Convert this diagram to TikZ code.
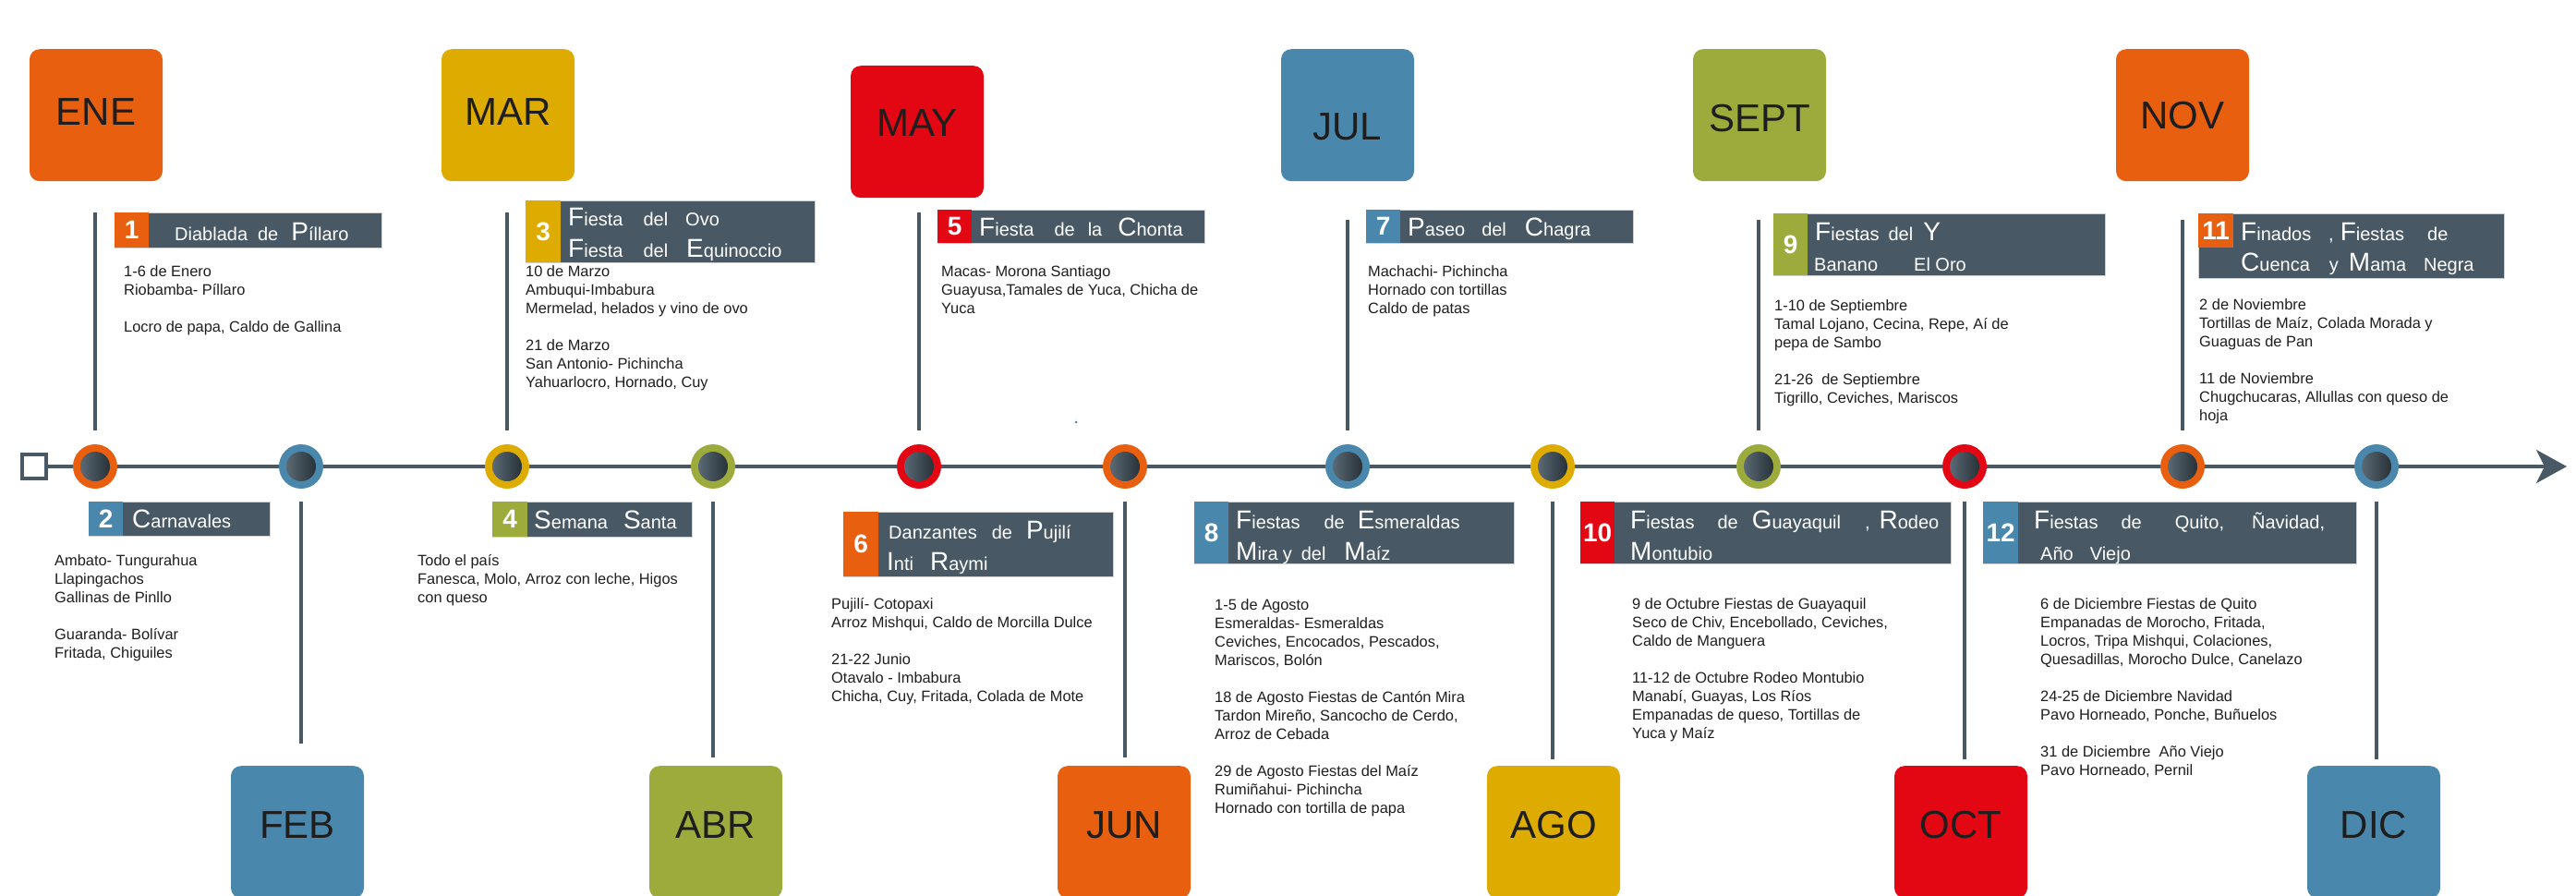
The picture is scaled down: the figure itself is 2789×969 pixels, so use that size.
\documentclass[tikz,border=0pt]{standalone}
\usepackage{fontspec}
\setmainfont{Liberation Sans}
\usetikzlibrary{arrows.meta}

\definecolor{naranja}{HTML}{E95F10}
\definecolor{azul}{HTML}{4A87AC}
\definecolor{amarillo}{HTML}{DEAC00}
\definecolor{verde}{HTML}{9DAB3D}
\definecolor{rojo}{HTML}{E30613}
\definecolor{pizarra}{HTML}{485965}
\definecolor{tinta}{HTML}{1E1E1E}

\newcommand{\ini}[1]{{\fontsize{28}{28}\selectfont #1}}

\tikzset{
  linea/.style={pizarra, line width=3.5pt},
  eje/.style={pizarra, line width=4pt, -{Stealth[length=33pt,width=36pt,inset=9pt]}},
  mes/.style={fill=#1, rounded corners=11pt, minimum width=144pt, minimum height=143pt, inner sep=0pt, anchor=north},
  mestexto/.style={text=tinta, inner sep=0pt, font=\fontsize{42}{42}\selectfont},
  anillo/.style={circle, fill=#1, minimum size=48pt, inner sep=0pt},
  nucleo/.style={circle, minimum size=32pt, inner sep=0pt, left color=pizarra!90!white, right color=pizarra!55!black},
  barra/.style={fill=pizarra, draw=black!18, line width=0.8pt, anchor=north west, inner sep=0pt},
  numero/.style={fill=#1, anchor=north west, inner sep=0pt, text=white, font=\fontsize{28}{28}\selectfont\bfseries},
  titulo/.style={anchor=base west, inner sep=0pt, text=white, font=\fontsize{20}{20}\selectfont},
  texto/.style={anchor=north west, inner sep=0pt, align=left, text=tinta, font=\fontsize{16.4}{20}\selectfont},
}

\begin{document}
\begin{tikzpicture}[x=1pt, y=-1pt]
\useasboundingbox (0,0) rectangle (2789,969);

% meses
\foreach \m/\x/\y/\ty/\col in {ENE/104/53/121/naranja, MAR/550/53/121/amarillo, MAY/993/71/133/rojo, JUL/1459/53/137/azul, SEPT/1905/53/128/verde, NOV/2363/53/125/naranja, FEB/322/829/893/azul, ABR/775/829/893/verde, JUN/1217/829/893/naranja, AGO/1682/829/893/amarillo, OCT/2123/829/893/rojo, DIC/2570/829/893/azul}{
  \node[mes=\col] (m\m) at (\x,\y) {};
  \node[mestexto] (t\m) at (\x,\ty) {\m};
}

% eje
\node[draw=pizarra, line width=4pt, fill=white, minimum size=26pt, inner sep=0pt] (inicio) at (37,505) {};
\coordinate (fin) at (2779,505);
\draw[eje] (inicio) -- (fin);

% circulos
\foreach \i/\x/\col in {1/103/naranja, 2/326/azul, 3/549/amarillo, 4/772/verde, 5/995/rojo, 6/1218/naranja, 7/1459/azul, 8/1681/amarillo, 9/1904/verde, 10/2127/rojo, 11/2363/naranja, 12/2573/azul}{
  \node[anillo=\col] (c\i) at (\x,505) {};
  \node[nucleo] (n\i) at (c\i) {};
}

% lineas verticales
\foreach \i/\x/\y in {1/103/230, 3/549/230, 5/995/230, 7/1459/238, 9/1904/238, 11/2363/238}{
  \coordinate (v\i) at (\x,\y);
  \draw[linea] (v\i) -- ([yshift=15pt]c\i.north);
}
\foreach \i/\x/\y in {2/326/805, 4/772/820, 6/1218/820, 8/1681/822, 10/2127/822, 12/2573/822}{
  \coordinate (v\i) at (\x,\y);
  \draw[linea] ([yshift=-14pt]c\i.south) -- (v\i);
}
\fill[azul] (1165,457) circle (1.5pt);

% 1
\node[barra, minimum width=289pt, minimum height=38pt] (b1) at (124,230) {};
\node[numero=naranja, minimum width=37pt, minimum height=38pt] (k1) at (b1.north west) {1};
\node[titulo] (e1) at (189,260) {Diablada\hspace{11pt}de\hspace{14pt}\ini{P}íllaro};
\node[texto] (d1) at (134,287) {1-6 de Enero\\Riobamba- Píllaro\\[20pt]Locro de papa, Caldo de Gallina};

% 2
\node[barra, minimum width=196pt, minimum height=37pt] (b2) at (96,543) {};
\node[numero=azul, minimum width=37pt, minimum height=37pt] (k2) at (b2.north west) {2};
\node[titulo] (e2) at (143,571) {\ini{C}arnavales};
\node[texto] (d2) at (59,600) {Ambato- Tungurahua\\Llapingachos\\Gallinas de Pinllo\\[20pt]Guaranda- Bolívar\\Fritada, Chiguiles};

% 3
\node[barra, minimum width=313pt, minimum height=67pt] (b3) at (569,217) {};
\node[numero=amarillo, minimum width=38pt, minimum height=67pt] (k3) at (b3.north west) {3};
\node[titulo] (e3) at (615,244) {\ini{F}iesta\hspace{22pt}del\hspace{19pt}Ovo};
\node[titulo] (f3) at (615,278) {\ini{F}iesta\hspace{22pt}del\hspace{20pt}\ini{E}quinoccio};
\node[texto] (d3) at (569,287) {10 de Marzo\\Ambuqui-Imbabura\\Mermelad, helados y vino de ovo\\[20pt]21 de Marzo\\San Antonio- Pichincha\\Yahuarlocro, Hornado, Cuy};

% 4
\node[barra, minimum width=216pt, minimum height=38pt] (b4) at (533,543) {};
\node[numero=verde, minimum width=38pt, minimum height=38pt] (k4) at (b4.north west) {4};
\node[titulo] (e4) at (578,572) {\ini{S}emana\hspace{17pt}\ini{S}anta};
\node[texto] (d4) at (452,600) {Todo el país\\Fanesca, Molo, Arroz con leche, Higos\\con queso};

% 5
\node[barra, minimum width=289pt, minimum height=36pt] (b5) at (1015,227) {};
\node[numero=rojo, minimum width=37pt, minimum height=36pt] (k5) at (b5.north west) {5};
\node[titulo] (e5) at (1060,255) {\ini{F}iesta\hspace{22pt}de\hspace{14pt}la\hspace{17pt}\ini{C}honta};
\node[texto] (d5) at (1019,287) {Macas- Morona Santiago\\Guayusa,Tamales de Yuca, Chicha de\\Yuca};

% 6
\node[barra, minimum width=292pt, minimum height=70pt] (b6) at (913,554) {};
\node[numero=naranja, minimum width=38pt, minimum height=70pt] (k6) at (b6.north west) {6};
\node[titulo] (e6) at (962,583) {Danzantes\hspace{16pt}de\hspace{15pt}\ini{P}ujilí};
\node[titulo] (f6) at (960,617) {\ini{I}nti\hspace{18pt}\ini{R}aymi};
\node[texto] (d6) at (900,647) {Pujilí- Cotopaxi\\Arroz Mishqui, Caldo de Morcilla Dulce\\[20pt]21-22 Junio\\Otavalo - Imbabura\\Chicha, Cuy, Fritada, Colada de Mote};

% 7
\node[barra, minimum width=289pt, minimum height=36pt] (b7) at (1479,227) {};
\node[numero=azul, minimum width=37pt, minimum height=36pt] (k7) at (b7.north west) {7};
\node[titulo] (e7) at (1524,255) {\ini{P}aseo\hspace{18pt}del\hspace{20pt}\ini{C}hagra};
\node[texto] (d7) at (1481,287) {Machachi- Pichincha\\Hornado con tortillas\\Caldo de patas};

% 8
\node[barra, minimum width=346pt, minimum height=67pt] (b8) at (1293,543) {};
\node[numero=azul, minimum width=37pt, minimum height=67pt] (k8) at (b8.north west) {8};
\node[titulo] (e8) at (1338,572) {\ini{F}iestas\hspace{26pt}de\hspace{14pt}\ini{E}smeraldas};
\node[titulo] (f8) at (1338,606) {\ini{M}ira\hspace{5pt}y\hspace{10pt}del\hspace{20pt}\ini{M}aíz};
\node[texto] (d8) at (1315,648) {1-5 de Agosto\\Esmeraldas- Esmeraldas\\Ceviches, Encocados, Pescados,\\Mariscos, Bolón\\[20pt]18 de Agosto Fiestas de Cantón Mira\\Tardon Mireño, Sancocho de Cerdo,\\Arroz de Cebada\\[20pt]29 de Agosto Fiestas del Maíz\\Rumiñahui- Pichincha\\Hornado con tortilla de papa};

% 9
\node[barra, minimum width=359pt, minimum height=67pt] (b9) at (1920,231) {};
\node[numero=verde, minimum width=37pt, minimum height=67pt] (k9) at (b9.north west) {9};
\node[titulo] (e9) at (1965,260) {\ini{F}iestas\hspace{10pt}del\hspace{11pt}\ini{Y}};
\node[titulo] (f9) at (1964,293) {Banano\hspace{39pt}El Oro};
\node[texto] (d9) at (1921,324) {1-10 de Septiembre\\Tamal Lojano, Cecina, Repe, Aí de\\pepa de Sambo\\[20pt]21-26~ de Septiembre\\Tigrillo, Ceviches, Mariscos};

% 10
\node[barra, minimum width=401pt, minimum height=67pt] (b10) at (1711,543) {};
\node[numero=rojo, minimum width=37pt, minimum height=67pt] (k10) at (b10.north west) {10};
\node[titulo] (e10) at (1765,572) {\ini{F}iestas\hspace{25pt}de\hspace{15pt}\ini{G}uayaquil\hspace{26pt},\hspace{10pt}\ini{R}odeo};
\node[titulo] (f10) at (1765,606) {\ini{M}ontubio};
\node[texto] (d10) at (1767,647) {9 de Octubre Fiestas de Guayaquil\\Seco de Chiv, Encebollado, Ceviches,\\Caldo de Manguera\\[20pt]11-12 de Octubre Rodeo Montubio\\Manabí, Guayas, Los Ríos\\Empanadas de queso, Tortillas de\\Yuca y Maíz};

% 11
\node[barra, minimum width=331pt, minimum height=70pt] (b11) at (2380,231) {};
\node[numero=naranja, minimum width=38pt, minimum height=37pt] (k11) at (b11.north west) {11};
\node[titulo] (e11) at (2426,260) {\ini{F}inados\hspace{19pt},\hspace{7pt}\ini{F}iestas\hspace{25pt}de};
\node[titulo] (f11) at (2426,293) {\ini{C}uenca\hspace{21pt}y\hspace{11pt}\ini{M}ama\hspace{19pt}Negra};
\node[texto] (d11) at (2381,323) {2 de Noviembre\\Tortillas de Maíz, Colada Morada y\\Guaguas de Pan\\[20pt]11 de Noviembre\\Chugchucaras, Allullas con queso de\\hoja};

% 12
\node[barra, minimum width=404pt, minimum height=67pt] (b12) at (2147,543) {};
\node[numero=azul, minimum width=38pt, minimum height=67pt] (k12) at (b12.north west) {12};
\node[titulo] (e12) at (2202,572) {\ini{F}iestas\hspace{25pt}de\hspace{36pt}Quito,\hspace{30pt}Ñavidad,};
\node[titulo] (f12) at (2209,606) {Año\hspace{18pt}Viejo};
\node[texto] (d12) at (2209,647) {6 de Diciembre Fiestas de Quito\\Empanadas de Morocho, Fritada,\\Locros, Tripa Mishqui, Colaciones,\\Quesadillas, Morocho Dulce, Canelazo\\[20pt]24-25 de Diciembre Navidad\\Pavo Horneado, Ponche, Buñuelos\\[20pt]31 de Diciembre~ Año Viejo\\Pavo Horneado, Pernil};
\end{tikzpicture}
\end{document}
